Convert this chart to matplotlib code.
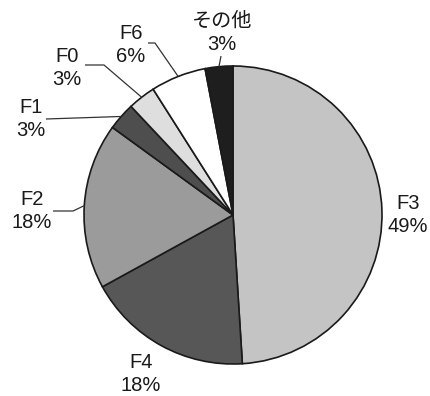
import numpy as np
import matplotlib
matplotlib.use('Agg')
import matplotlib.pyplot as plt

labels = ['F3', 'F4', 'F2', 'F1', 'F0', 'F6', 'その他']
values = [49, 18, 18, 3, 3, 6, 3]
colors = ['#c4c4c4', '#575757', '#9b9b9b', '#4e4e4e', '#dedede', '#ffffff', '#1e1e1e']

# layout in pixel coordinates (from top-left of the image)
W, H = 431, 396
center_px = (233, 215)
radius = 149
# text block centre for each label, and optional elbow point of leader line
text_pos = {
    'F3': (408, 215),
    'F4': (141, 374),
    'F2': (32, 211),
    'F1': (31, 119),
    'F0': (67, 68),
    'F6': (131, 45),
    'その他': (222, 33),
}
leader = {
    'F2': [(53, 211), (73, 211)],
    'F1': [(46, 119)],
    'F0': [(85, 65), (104, 65)],
    'F6': [(148, 43), (155, 43)],
    'その他': [(221, 56)],
}

plt.rcParams['font.family'] = ['Liberation Sans', 'Noto Sans CJK JP']


def px(p):
    return (p[0], H - p[1])


fig = plt.figure(figsize=(W / 100, H / 100), dpi=100)
ax = fig.add_axes([0, 0, 1, 1])

wedges, _ = ax.pie(values, colors=colors, startangle=90, counterclock=False,
                   center=px(center_px), radius=radius,
                   wedgeprops=dict(edgecolor='#1a1a1a', linewidth=1.2))
# pie() sets its own limits, so put them back to pixel space
ax.set_xlim(0, W)
ax.set_ylim(0, H)
ax.set_aspect('equal')
ax.axis('off')

cx, cy = px(center_px)
for w, lab, v in zip(wedges, labels, values):
    mid = np.deg2rad((w.theta1 + w.theta2) / 2)
    edge = (cx + radius * np.cos(mid), cy + radius * np.sin(mid))
    if lab in leader:
        pts = [px(p) for p in leader[lab]] + [edge]
        xs, ys = zip(*pts)
        ax.plot(xs, ys, color='#333333', lw=0.9, solid_capstyle='butt')
    tx, ty = px(text_pos[lab])
    ax.text(tx, ty, f'{lab}\n{v}%', ha='center', va='center',
            fontsize=14.5, linespacing=1.3, color='#1a1a1a')

fig.savefig('out.png', dpi=100)
